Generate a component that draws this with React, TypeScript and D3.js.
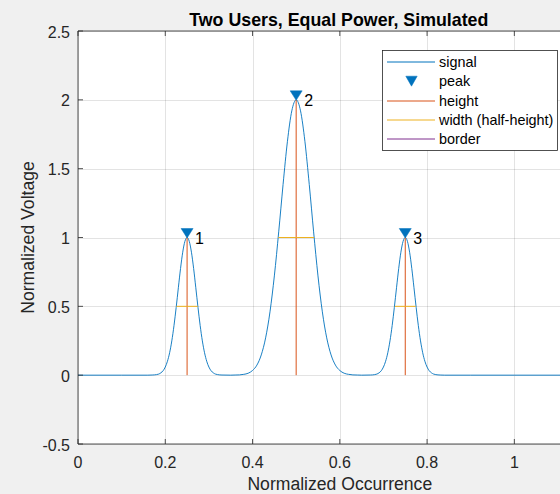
import React from "react";
import * as d3 from "d3";

// ---- data ----
const signalX = [
  0, 0.1, 0.16, 0.17, 0.18, 0.185, 0.19, 0.195, 0.2, 0.205, 0.21, 0.215, 0.22, 0.225, 0.23, 0.235, 0.24, 0.245,
  0.25, 0.255, 0.26, 0.265, 0.27, 0.275, 0.28, 0.285, 0.29, 0.295, 0.3, 0.305, 0.31, 0.315, 0.32, 0.33,
  0.35, 0.36, 0.37, 0.38, 0.39, 0.4, 0.41, 0.42, 0.43, 0.44, 0.45, 0.46, 0.47, 0.48, 0.49,
  0.5, 0.51, 0.52, 0.53, 0.54, 0.55, 0.56, 0.57, 0.58, 0.59, 0.6, 0.61, 0.62, 0.63, 0.64, 0.65,
  0.67, 0.68, 0.685, 0.69, 0.695, 0.7, 0.705, 0.71, 0.715, 0.72, 0.725, 0.73, 0.735, 0.74, 0.745,
  0.75, 0.755, 0.76, 0.765, 0.77, 0.775, 0.78, 0.785, 0.79, 0.795, 0.8, 0.805, 0.81, 0.815, 0.82, 0.83,
  0.84, 0.9, 1.0, 1.1, 1.2,
];
const signalY = [
  0, 0, 0, 0.001, 0.004, 0.008, 0.017, 0.032, 0.059, 0.101, 0.163, 0.249, 0.36, 0.492, 0.635, 0.775, 0.893, 0.972,
  1.0, 0.972, 0.893, 0.775, 0.635, 0.492, 0.36, 0.249, 0.163, 0.101, 0.059, 0.032, 0.017, 0.008, 0.004, 0.001,
  0, 0.001, 0.002, 0.006, 0.014, 0.034, 0.073, 0.147, 0.271, 0.46, 0.721, 1.041, 1.385, 1.699, 1.92,
  2.0, 1.92, 1.699, 1.385, 1.041, 0.721, 0.46, 0.271, 0.147, 0.073, 0.034, 0.014, 0.006, 0.002, 0.001, 0,
  0.001, 0.004, 0.008, 0.017, 0.032, 0.059, 0.101, 0.163, 0.249, 0.36, 0.492, 0.635, 0.775, 0.893, 0.972,
  1.0, 0.972, 0.893, 0.775, 0.635, 0.492, 0.36, 0.249, 0.163, 0.101, 0.059, 0.032, 0.017, 0.008, 0.004, 0.001,
  0, 0, 0, 0, 0,
];
const peakX = [0.25, 0.5, 0.75];
const peakY = [1, 2, 1];
const peakLabels = ["1", "2", "3"];
const halfWidths = [0.049, 0.082, 0.048];
const xTicks = [0, 0.2, 0.4, 0.6, 0.8, 1, 1.2];
const xTickLabels = ["0", "0.2", "0.4", "0.6", "0.8", "1"];
const yTicks = [-0.5, 0, 0.5, 1, 1.5, 2, 2.5];
const yTickLabels = ["-0.5", "0", "0.5", "1", "1.5", "2", "2.5"];
const legendItems = ["signal", "peak", "height", "width (half-height)", "border"];
const titleText = "Two Users, Equal Power, Simulated";
const xLabelText = "Normalized Occurrence";
const yLabelText = "Normalized Voltage";

const BLUE = "#0072BD";
const ORANGE = "#D95319";
const YELLOW = "#EDB120";
const PURPLE = "#7E2F8E";
const AX = "#262626";
const FONT = "'Liberation Sans', Arial, Helvetica, sans-serif";

export default function App() {
  const W = 560;
  const H = 494;
  const left = 78;
  const right = 601.6;
  const top = 31;
  const bottom = 444;
  const x = d3.scaleLinear().domain([0, 1.2]).range([left, right]);
  const y = d3.scaleLinear().domain([-0.5, 2.5]).range([bottom, top]);

  const pts: [number, number][] = signalX.map((v, i) => [v, signalY[i]]);
  const line = d3
    .line<[number, number]>()
    .x((d) => x(d[0]))
    .y((d) => y(d[1]))
    .curve(d3.curveMonotoneX);

  const tri = (cx: number, tipY: number, hw: number, h: number) =>
    `M${cx - hw},${tipY - h}L${cx + hw},${tipY - h}L${cx},${tipY}Z`;

  const legX = 382;
  const legY = 50;
  const legW = 175;
  const legH = 100;
  const rowY = (i: number) => Math.round(62 + i * 19.25);

  return (
    <svg
      width={W}
      height={H}
      style={{ position: "absolute", left: 0, top: 0, display: "block" }}
      fontFamily={FONT}
    >
      <rect x={0} y={0} width={W} height={H} fill="#F0F0F0" />
      <rect x={left} y={top} width={right - left} height={bottom - top} fill="#FFFFFF" />
      {/* grid */}
      <g stroke={AX} strokeOpacity={0.13} strokeWidth={1}>
        {xTicks.map((t) => (
          <line key={"gx" + t} x1={Math.round(x(t)) + 0.5} x2={Math.round(x(t)) + 0.5} y1={top} y2={bottom} />
        ))}
        {yTicks.map((t) => (
          <line key={"gy" + t} x1={left} x2={right} y1={Math.round(y(t)) + 0.5} y2={Math.round(y(t)) + 0.5} />
        ))}
      </g>
      {/* signal */}
      <path d={line(pts) || ""} fill="none" stroke={BLUE} strokeWidth={0.9} />
      {/* height lines */}
      {peakX.map((px, i) => (
        <line key={"h" + i} x1={x(px)} x2={x(px)} y1={y(0)} y2={y(peakY[i])} stroke={ORANGE} strokeWidth={1} />
      ))}
      {/* half-height width lines */}
      {peakX.map((px, i) => (
        <line
          key={"w" + i}
          x1={x(px - halfWidths[i] / 2)}
          x2={x(px + halfWidths[i] / 2)}
          y1={y(peakY[i] / 2)}
          y2={y(peakY[i] / 2)}
          stroke={YELLOW}
          strokeWidth={1}
        />
      ))}
      {/* peak markers */}
      {peakX.map((px, i) => (
        <path key={"m" + i} d={tri(x(px), y(peakY[i]) + 0.5, 6, 9.5)} fill={BLUE} stroke={BLUE} strokeWidth={0.5} />
      ))}
      {/* peak labels */}
      {peakX.map((px, i) => (
        <text key={"l" + i} x={x(px) + 8} y={y(peakY[i]) + 6.3} fontSize={16} fill="#000">
          {peakLabels[i]}
        </text>
      ))}
      {/* axes box */}
      <g stroke={AX} strokeWidth={0.8} fill="none">
        <line x1={left} x2={left} y1={top} y2={bottom} />
        <line x1={left} x2={right} y1={bottom} y2={bottom} />
        <line x1={left} x2={right} y1={top} y2={top} />
        <line x1={right} x2={right} y1={top} y2={bottom} />
        {xTicks.map((t) => (
          <g key={"tx" + t}>
            <line x1={x(t)} x2={x(t)} y1={bottom} y2={bottom - 5} />
            <line x1={x(t)} x2={x(t)} y1={top} y2={top + 5} />
          </g>
        ))}
        {yTicks.map((t) => (
          <g key={"ty" + t}>
            <line x1={left} x2={left + 5} y1={y(t)} y2={y(t)} />
            <line x1={right} x2={right - 5} y1={y(t)} y2={y(t)} />
          </g>
        ))}
      </g>
      {/* tick labels */}
      {xTickLabels.map((lab, i) => (
        <text key={"xl" + i} x={x(xTicks[i])} y={467.5} fontSize={16} fill={AX} textAnchor="middle">
          {lab}
        </text>
      ))}
      {yTicks.map((t, i) => (
        <text key={"yl" + t} x={70} y={y(t) + 6.5} fontSize={16} fill={AX} textAnchor="end">
          {yTickLabels[i]}
        </text>
      ))}
      {/* labels */}
      <text x={(left + right) / 2 - 1} y={25.5} fontSize={17.8} fontWeight="bold" textAnchor="middle" fill="#000">
        {titleText}
      </text>
      <text x={(left + right) / 2} y={490} fontSize={17.6} textAnchor="middle" fill={AX}>
        {xLabelText}
      </text>
      <text
        transform={`translate(33.5,${(top + bottom) / 2}) rotate(-90)`}
        fontSize={17.6}
        textAnchor="middle"
        fill={AX}
      >
        {yLabelText}
      </text>
      {/* legend */}
      <rect x={legX + 0.5} y={legY + 0.5} width={legW} height={legH} fill="#FFFFFF" stroke={AX} strokeWidth={0.8} />
      {legendItems.map((name, i) => {
        const ry = rowY(i);
        const col = [BLUE, null, ORANGE, YELLOW, PURPLE][i];
        return (
          <g key={"lg" + i}>
            {col ? (
              <line x1={387} x2={435} y1={ry} y2={ry} stroke={col} strokeWidth={1} />
            ) : (
              <path d={tri(411.5, ry + 5.2, 5.7, 10)} fill={BLUE} stroke={BLUE} strokeWidth={0.5} />
            )}
            <text x={439} y={ry + 5} fontSize={14.4} fill="#000">
              {name}
            </text>
          </g>
        );
      })}
    </svg>
  );
}
